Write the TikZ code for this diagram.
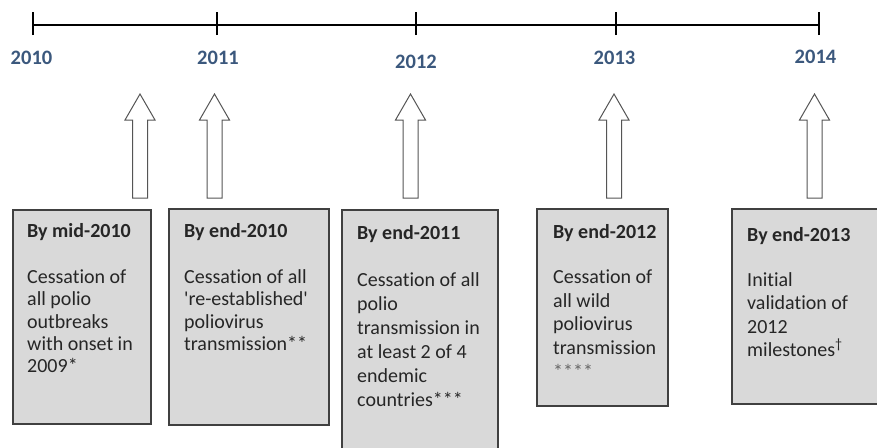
\documentclass[tikz,border=0pt]{standalone}
\usepackage{fontspec}
\newfontfamily\carl{Carlito}[Ligatures={NoCommon,NoRequired}]
\definecolor{yearblue}{RGB}{59,88,125}
\definecolor{boxfill}{RGB}{217,217,217}
\definecolor{boxline}{RGB}{64,64,64}
\definecolor{arrline}{RGB}{85,85,85}
\begin{document}
\begin{tikzpicture}[x=1pt,y=-1pt,
  yearlabel/.style={font=\carl\bfseries\fontsize{20.5}{24}\selectfont, text=yearblue, inner sep=0pt, anchor=base},
  milebox/.style={draw=boxline, fill=boxfill, line width=1.3pt},
  miletext/.style={inner sep=0pt, anchor=base west, align=left, text=black!85},
  blockarrow/.style={draw=arrline, line width=1pt, fill=white, line join=miter},
  tickline/.style={line width=1.3pt, black}
]
\useasboundingbox (0,0) rectangle (877,447);
\clip (0,0) rectangle (877,447);
\fill[white] (0,0) rectangle (877,447);

% timeline
\coordinate (t0) at (33,25);
\coordinate (t1) at (217,25);
\coordinate (t2) at (416,25);
\coordinate (t3) at (616,25);
\coordinate (t4) at (819,25);
\draw[tickline] (t0) -- (t4);
\foreach \t in {t0,t1,t2,t3,t4}{
  \draw[tickline] ([yshift=-10pt]\t) -- ([yshift=13pt]\t);
}
\node[yearlabel] (y2010) at (31.5,64) {2010};
\node[yearlabel] (y2011) at (218,64) {2011};
\node[yearlabel] (y2012) at (416,68) {2012};
\node[yearlabel] (y2013) at (614.5,64) {2013};
\node[yearlabel] (y2014) at (815.5,63) {2014};

% block arrows (bottom centre given)
\foreach \cx/\nm in {140/a1,214.5/a2,410.5/a3,614/a4,814.5/a5}{
  \draw[blockarrow] (\cx-7.5,198) -- (\cx-7.5,120) -- (\cx-15,120) -- (\cx,94)
     -- (\cx+15,120) -- (\cx+7.5,120) -- (\cx+7.5,198) -- cycle;
}

% boxes
\draw[milebox] (13,210) rectangle (151,424);
\draw[milebox] (169,209) rectangle (329,425);
\draw[milebox] (342,210) rectangle (498,470);
\draw[milebox] (537,209) rectangle (668,406);
\draw[milebox] (732,209) rectangle (895,404);

% text nodes: anchored at the baseline of their last line
\node[miletext, font=\carl\fontsize{20}{22.3}\selectfont] (b1) at (27,372.7)
 {\textbf{By mid-2010}\\[24.2pt]Cessation of\\all polio\\outbreaks\\with onset in\\2009*};
\node[miletext, font=\carl\fontsize{20}{22.3}\selectfont] (b2) at (184,350.4)
 {\textbf{By end-2010}\\[24.2pt]Cessation of all\\'re-established'\\poliovirus\\transmission**};
\node[miletext, font=\carl\fontsize{20}{24}\selectfont] (b3) at (357,406.5)
 {\textbf{By end-2011}\\[23pt]Cessation of all\\polio\\transmission in\\at least 2 of 4\\endemic\\countries***};
\node[miletext, font=\carl\fontsize{20}{23.7}\selectfont] (b4) at (553,378.3)
 {\textbf{By end-2012}\\[21.3pt]Cessation of\\all wild\\poliovirus\\transmission\\{\color{black!60}****}};
\node[miletext, font=\carl\fontsize{20}{23.3}\selectfont] (b5) at (747,356.4)
 {\textbf{By end-2013}\\[21.7pt]Initial\\validation of\\2012\\milestones\textsuperscript{†}};
\end{tikzpicture}
\end{document}
